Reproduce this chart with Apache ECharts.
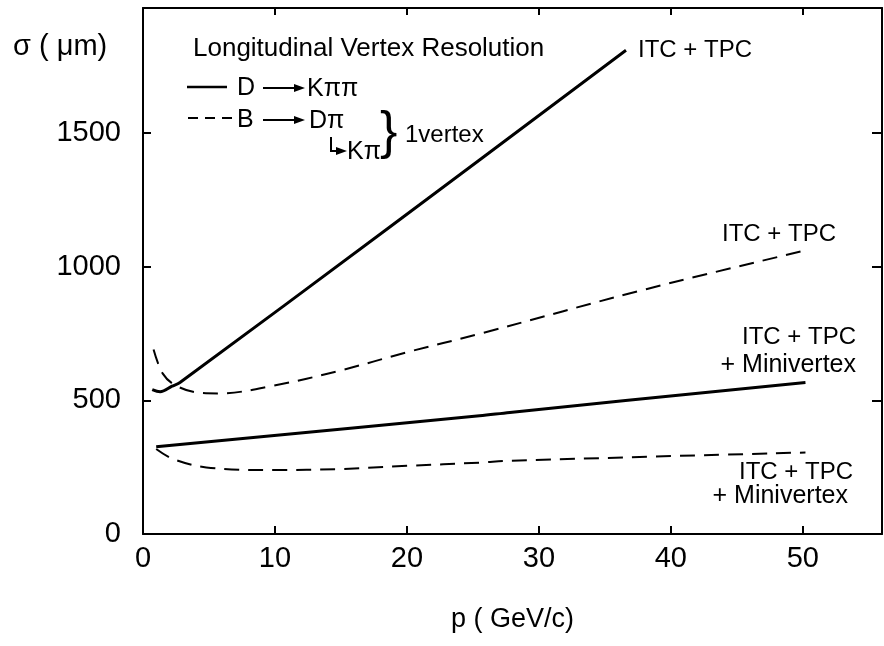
<!DOCTYPE html>
<html>
<head>
<meta charset="UTF-8">
<title>Longitudinal Vertex Resolution</title>
<script type="text/javascript" src="https://cdn.jsdelivr.net/npm/echarts@6/dist/echarts.min.js"></script>
</head>
<body style="margin:0;background:#fff;">
	<div id="main" style="width:884px;height:646px;"></div>
<script type="text/javascript">
	// p (GeV/c), sigma (um)
	var dKpipiTpc = [[0.7, 540], [1.3, 532], [2.2, 553], [2.8, 567], [18.6, 1145], [36.6, 1810]];
	var bDpiTpc = [[0.8, 690], [1.5, 600], [2.5, 555], [4.3, 528], [5.8, 526], [9.9, 555], [14.9, 611],
		[20, 680], [25.5, 749], [38.2, 917], [50.2, 1061]];
	var dKpipiMini = [[1.0, 326], [25.5, 442], [27.8, 455], [50.2, 567]];
	var bDpiMini = [[1.0, 318], [2.3, 280], [4.8, 249], [9.9, 239], [14.9, 243], [20, 255], [25.5, 267],
		[27.8, 274], [50.2, 305]];

	var xTickLabels = [0, 10, 20, 30, 40, 50];
	var yTickLabels = [0, 500, 1000, 1500];

	var font = 'Liberation Sans';
	var myChart = echarts.init(document.getElementById('main'));

	function axisBase(showLabel, ticks) {
		return {
			type : 'value',
			splitLine : { show : false },
			axisLine : { show : true, onZero : false, lineStyle : { color : '#000', width : 2 } },
			axisTick : { show : true, inside : true, length : 8, lineStyle : { color : '#000', width : 2 } },
			axisLabel : {
				show : showLabel,
				inside : false,
				color : '#000',
				fontFamily : font,
				fontSize : 29,
				showMaxLabel : false,
				formatter : function(v) {
					return ticks.indexOf(v) >= 0 ? String(v) : '';
				}
			}
		};
	}

	var xBottom = axisBase(true, xTickLabels);
	xBottom.position = 'bottom';
	xBottom.min = 0; xBottom.max = 56; xBottom.interval = 10;
	xBottom.axisLabel.margin = 10;
	xBottom.name = 'p ( GeV/c)';
	xBottom.nameLocation = 'middle';
	xBottom.nameGap = 72;
	xBottom.nameTextStyle = { color : '#000', fontFamily : font, fontSize : 27 };

	var xTop = axisBase(false, xTickLabels);
	xTop.position = 'top';
	xTop.min = 0; xTop.max = 56; xTop.interval = 10;
	xTop.axisTick.length = 7;

	var yLeft = axisBase(true, yTickLabels);
	yLeft.position = 'left';
	yLeft.min = 0; yLeft.max = 1968; yLeft.interval = 500;
	yLeft.axisLabel.margin = 22;

	var yRight = axisBase(false, yTickLabels);
	yRight.position = 'right';
	yRight.min = 0; yRight.max = 1968; yRight.interval = 500;
	yRight.axisTick.length = 10;

	function curve(data, dashed, width) {
		return {
			type : 'line',
			data : data,
			xAxisIndex : 0,
			yAxisIndex : 0,
			showSymbol : false,
			smooth : 0.35,
			silent : true,
			lineStyle : { color : '#000', width : width, type : dashed ? [15, 9] : 'solid' }
		};
	}

	function txt(x, y, s, size, align) {
		return {
			type : 'text', x : x, y : y,
			style : { text : s, fill : '#000', font : size + 'px ' + font, align : align || 'left', verticalAlign : 'middle' }
		};
	}

	function arrow(x1, x2, y) {
		return [
			{ type : 'line', shape : { x1 : x1, y1 : y, x2 : x2 - 8, y2 : y }, style : { stroke : '#000', lineWidth : 2 } },
			{ type : 'polygon', shape : { points : [[x2 - 11, y - 4], [x2, y], [x2 - 11, y + 4]] }, style : { fill : '#000' } }
		];
	}

	var graphics = [
		txt(13, 47, 'σ ( μm)', 29),
		txt(193, 49, 'Longitudinal Vertex Resolution', 26),
		{ type : 'line', shape : { x1 : 187, y1 : 87, x2 : 227, y2 : 87 }, style : { stroke : '#000', lineWidth : 2.5 } },
		txt(237, 88, 'D', 25),
		txt(307, 89, 'Kππ', 25),
		{ type : 'line', shape : { x1 : 188, y1 : 118, x2 : 233, y2 : 118 }, style : { stroke : '#000', lineWidth : 2, lineDash : [10, 7] } },
		txt(237, 120, 'B', 25),
		txt(309, 121, 'Dπ', 25),
		{ type : 'polyline', shape : { points : [[331, 137], [331, 151], [338, 151]] }, style : { stroke : '#000', lineWidth : 2, fill : null } },
		{ type : 'polygon', shape : { points : [[336, 147], [347, 151], [336, 155]] }, style : { fill : '#000' } },
		txt(347, 152, 'Kπ', 25),
		txt(380, 134, '}', 52),
		txt(405, 135, '1vertex', 24),
		txt(638, 50, 'ITC + TPC', 24),
		txt(722, 234, 'ITC + TPC', 24),
		txt(856, 337, 'ITC + TPC', 24, 'right'),
		txt(856, 365, '+ Minivertex', 25, 'right'),
		txt(853, 472, 'ITC + TPC', 24, 'right'),
		txt(848, 496, '+ Minivertex', 25, 'right')
	];
	graphics = graphics.concat(arrow(263, 305, 88), arrow(263, 305, 120));

	option = {
		backgroundColor : '#fff',
		animation : false,
		grid : { left : 143, right : 2, top : 8, bottom : 112, containLabel : false, outerBoundsMode : 'none' },
		xAxis : [ xBottom, xTop ],
		yAxis : [ yLeft, yRight ],
		series : [
			curve(dKpipiTpc, false, 3),
			curve(bDpiTpc, true, 2),
			curve(dKpipiMini, false, 3),
			curve(bDpiMini, true, 2)
		],
		graphic : graphics
	};
	myChart.setOption(option);
</script>
</body>
</html>
